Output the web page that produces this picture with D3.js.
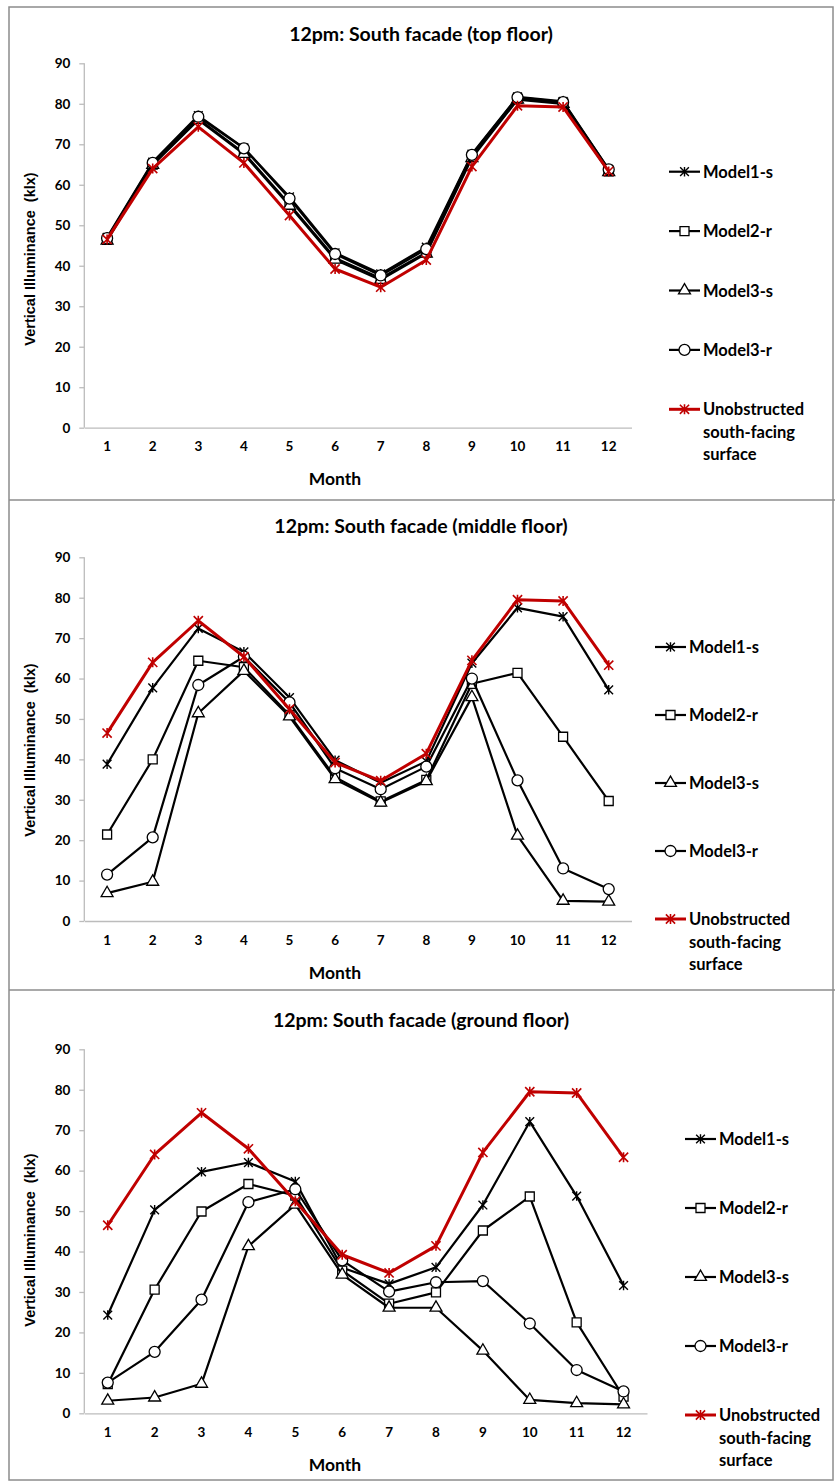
<!DOCTYPE html>
<html>
<head>
<meta charset="utf-8">
<script src="https://cdn.jsdelivr.net/npm/d3@7"></script>
<style>
  html, body { margin: 0; padding: 0; background: #ffffff; }
  svg { display: block; }
  text { fill: #000; }
</style>
</head>
<body>
<svg id="chart" width="835" height="1481"></svg>
<script>
// ---- data -------------------------------------------------------------
const months = ["1","2","3","4","5","6","7","8","9","10","11","12"];
const yTicks = [0, 10, 20, 30, 40, 50, 60, 70, 80, 90];
const seriesNames = ["Model1-s", "Model2-r", "Model3-s", "Model3-r", "Unobstructed south-facing surface"];
const legendLines = [["Model1-s"], ["Model2-r"], ["Model3-s"], ["Model3-r"], ["Unobstructed", "south-facing", "surface"]];
const panelTitles = [
  "12pm: South facade (top floor)",
  "12pm: South facade (middle floor)",
  "12pm: South facade (ground floor)"
];

// Unobstructed south-facing surface (same in every panel), klx
const unobstructed = [46.5, 64.0, 74.3, 65.4, 52.4, 39.2, 34.7, 41.4, 64.5, 79.5, 79.2, 63.3];

// top floor
const top_model1s = [47.0, 65.6, 77.1, 69.1, 57.0, 43.2, 38.0, 44.6, 67.6, 81.7, 80.6, 63.8];
const top_model2r = [46.4, 65.0, 76.3, 67.9, 55.2, 41.9, 36.9, 43.3, 67.0, 81.2, 80.2, 63.3];
const top_model3s = [46.2, 64.9, 76.0, 67.6, 54.8, 41.5, 36.5, 43.0, 66.6, 81.0, 80.0, 63.1];
const top_model3r = [46.8, 65.4, 76.8, 69.0, 56.6, 42.9, 37.6, 44.1, 67.4, 81.6, 80.4, 63.8];

// middle floor
const mid_model1s = [38.8, 57.7, 72.4, 66.6, 55.3, 39.8, 34.2, 39.5, 63.8, 77.5, 75.3, 57.2];
const mid_model2r = [21.4, 40.0, 64.4, 62.8, 51.0, 35.6, 29.6, 34.9, 58.7, 61.4, 45.6, 29.7];
const mid_model3s = [6.9, 9.7, 51.4, 61.9, 50.6, 35.1, 29.3, 34.6, 55.4, 21.1, 5.0, 4.8];
const mid_model3r = [11.5, 20.7, 58.4, 65.4, 54.1, 37.8, 32.6, 38.2, 60.0, 34.8, 13.0, 7.9];

// ground floor
const gnd_model1s = [24.3, 50.3, 59.7, 62.0, 57.3, 36.0, 32.0, 36.1, 51.5, 72.1, 53.7, 31.6];
const gnd_model2r = [7.2, 30.6, 49.9, 56.7, 53.8, 35.3, 27.1, 29.9, 45.2, 53.6, 22.5, 4.1];
const gnd_model3s = [3.1, 3.9, 7.3, 41.3, 51.6, 34.3, 26.1, 26.1, 15.5, 3.3, 2.5, 2.2];
const gnd_model3r = [7.6, 15.2, 28.1, 52.2, 55.4, 37.8, 30.1, 32.4, 32.7, 22.2, 10.7, 5.4];

// ---- layout -----------------------------------------------------------
const panels = [
  { title: panelTitles[0], series: [top_model1s, top_model2r, top_model3s, top_model3r, unobstructed],
    x0: 84.3, x1: 631.5, yTop: 63.3, yBot: 427.7, titleY: 33, yTitleY: 259,
    legX: 669, legY: 171.7, legStep: 59.4 },
  { title: panelTitles[1], series: [mid_model1s, mid_model2r, mid_model3s, mid_model3r, unobstructed],
    x0: 84.3, x1: 631.5, yTop: 557.3, yBot: 921, titleY: 525, yTitleY: 750,
    legX: 655, legY: 647, legStep: 68 },
  { title: panelTitles[2], series: [gnd_model1s, gnd_model2r, gnd_model3s, gnd_model3r, unobstructed],
    x0: 84.3, x1: 647, yTop: 1049.3, yBot: 1413.3, titleY: 1019, yTitleY: 1240,
    legX: 685, legY: 1139, legStep: 69 }
];

// Excel-style star marker: an "x" with a vertical stroke through it
const symbolStar = {
  draw(ctx, size) {
    const r = Math.sqrt(size) / 2;
    const d = r * 0.92;
    ctx.moveTo(0, -r); ctx.lineTo(0, r);
    ctx.moveTo(-d, -d); ctx.lineTo(d, d);
    ctx.moveTo(-d, d); ctx.lineTo(d, -d);
  }
};

const styles = [
  { color: "#000", width: 2.2, symbol: symbolStar, size: 90, fill: "none", mstroke: 1.4 },
  { color: "#000", width: 2.2, symbol: d3.symbolSquare, size: 81, fill: "#fff", mstroke: 1.3 },
  { color: "#000", width: 2.2, symbol: d3.symbolTriangle, size: 62, fill: "#fff", mstroke: 1.3 },
  { color: "#000", width: 2.2, symbol: d3.symbolCircle, size: 95, fill: "#fff", mstroke: 1.3 },
  { color: "#c00000", width: 3, symbol: symbolStar, size: 100, fill: "none", mstroke: 1.6 }
];

const svg = d3.select("#chart");
const FONT = "Lato, 'Open Sans', sans-serif";
const AXIS_COLOR = "#bcbcbc";

// frame and panel separators
svg.append("rect")
  .attr("x", 9).attr("y", 7).attr("width", 824).attr("height", 1473)
  .attr("fill", "none").attr("stroke", "#8c8c8c").attr("stroke-width", 1.5);
[500, 990].forEach(yy => {
  svg.append("line").attr("x1", 9).attr("x2", 835).attr("y1", yy).attr("y2", yy)
    .attr("stroke", "#8c8c8c").attr("stroke-width", 1.5);
});

panels.forEach(p => {
  const g = svg.append("g");
  const x = d3.scaleBand().domain(months).range([p.x0, p.x1]);
  const y = d3.scaleLinear().domain([0, 90]).range([p.yBot, p.yTop]);
  const cx = m => x(m) + x.bandwidth() / 2;

  // title
  g.append("text").attr("x", 421).attr("y", p.titleY).attr("text-anchor", "middle")
    .attr("dominant-baseline", "central")
    .style("font-family", FONT).style("font-weight", 700).style("font-size", "19.5px")
    .text(p.title);

  // y axis
  const yAxis = g.append("g").attr("transform", `translate(${p.x0},0)`)
    .call(d3.axisLeft(y).tickValues(yTicks).tickSize(5).tickPadding(9).tickFormat(d3.format("d")));
  yAxis.select(".domain").attr("stroke", AXIS_COLOR).attr("stroke-width", 1.3)
    .attr("d", `M0,${p.yTop}V${p.yBot}`);
  yAxis.selectAll(".tick line").attr("stroke", AXIS_COLOR).attr("stroke-width", 1.3);
  yAxis.selectAll(".tick text").attr("fill", "#000")
    .style("font-family", FONT).style("font-weight", 700).style("font-size", "13.5px");

  // x axis
  const xAxis = g.append("g").attr("transform", `translate(0,${p.yBot})`)
    .call(d3.axisBottom(x).tickSize(0).tickPadding(14));
  xAxis.select(".domain").attr("stroke", AXIS_COLOR).attr("stroke-width", 1.3);
  xAxis.selectAll(".tick text").attr("fill", "#000")
    .style("font-family", FONT).style("font-weight", 700).style("font-size", "13.5px");

  // axis titles
  g.append("text").attr("x", 335).attr("y", p.yBot + 51).attr("text-anchor", "middle")
    .attr("dominant-baseline", "central")
    .style("font-family", FONT).style("font-weight", 700).style("font-size", "17.5px")
    .text("Month");
  g.append("text")
    .attr("transform", `translate(30,${p.yTitleY}) rotate(-90)`)
    .attr("text-anchor", "middle").attr("dominant-baseline", "central")
    .style("font-family", "'Liberation Sans', Arial, sans-serif").style("font-weight", 700)
    .style("font-size", "14.5px").style("white-space", "pre")
    .text("Vertical Illuminance  (klx)");

  // series
  const line = d3.line().x((d, i) => cx(months[i])).y(d => y(d));
  p.series.forEach((vals, si) => {
    const st = styles[si];
    const sg = g.append("g");
    sg.append("path").attr("d", line(vals)).attr("fill", "none")
      .attr("stroke", st.color).attr("stroke-width", st.width).attr("stroke-linejoin", "round");
    sg.selectAll("path.mk").data(vals).join("path").attr("class", "mk")
      .attr("transform", (d, i) => `translate(${cx(months[i])},${y(d)})`)
      .attr("d", d3.symbol().type(st.symbol).size(st.size)())
      .attr("fill", st.fill).attr("stroke", st.color).attr("stroke-width", st.mstroke);
  });

  // legend
  const lg = g.append("g");
  legendLines.forEach((lines, li) => {
    const st = styles[li];
    const ly = p.legY + li * p.legStep;
    lg.append("line").attr("x1", p.legX).attr("x2", p.legX + 31).attr("y1", ly).attr("y2", ly)
      .attr("stroke", st.color).attr("stroke-width", st.width);
    lg.append("path").attr("transform", `translate(${p.legX + 15.5},${ly})`)
      .attr("d", d3.symbol().type(st.symbol).size(st.size)())
      .attr("fill", st.fill).attr("stroke", st.color).attr("stroke-width", st.mstroke);
    lines.forEach((t, k) => {
      lg.append("text").attr("x", p.legX + 34).attr("y", ly + k * 22.5)
        .attr("dominant-baseline", "central")
        .style("font-family", FONT).style("font-weight", 700).style("font-size", "16.5px")
        .text(t);
    });
  });
});
</script>
</body>
</html>
